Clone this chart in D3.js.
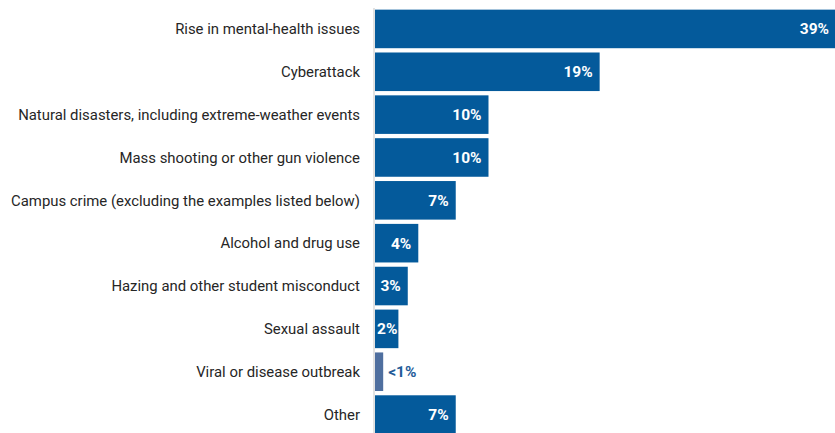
<!DOCTYPE html>
<html><head><meta charset="utf-8">
<script src="https://cdn.jsdelivr.net/npm/d3@7"></script>
<style>body{margin:0;background:#fff;overflow:hidden}svg{display:block}</style>
</head><body><svg id="c" width="835" height="433"></svg>
<script>
const categories = ["Rise in mental-health issues","Cyberattack","Natural disasters, including extreme-weather events","Mass shooting or other gun violence","Campus crime (excluding the examples listed below)","Alcohol and drug use","Hazing and other student misconduct","Sexual assault","Viral or disease outbreak","Other"];
const values = [39.4, 19.2, 9.7, 9.7, 6.9, 3.7, 2.8, 2.0, 0.7, 6.9];
const labels = ["39%","19%","10%","10%","7%","4%","3%","2%","<1%","7%"];

const svg = d3.select("#c");
const x0 = 375;
const x = d3.scaleLinear().domain([0, 39.4]).range([x0, 836]);
const y = d3.scaleBand().domain(categories).range([7.5, 436]).paddingInner(0.1).paddingOuter(0.05);

svg.append("line").attr("x1", x0-1).attr("x2", x0-1).attr("y1", 8).attr("y2", 433)
  .attr("stroke", "#d9d9d9").attr("stroke-width", 1.5);

const g = svg.selectAll("g.bar").data(categories).join("g");
g.append("rect").attr("x", x0).attr("y", d => y(d)).attr("height", y.bandwidth())
  .attr("width", (d,i) => x(values[i]) - x0)
  .attr("fill", (d,i) => values[i] < 1 ? "#4f6f9f" : "#045a9b");
g.append("text").attr("x", x0-15).attr("y", d => y(d) + y.bandwidth()/2)
  .attr("dy", "0.35em").attr("text-anchor", "end")
  .attr("font-family", "Roboto").attr("font-size", 14.9).attr("fill", "#262626")
  .text(d => d);
g.append("text")
  .attr("y", d => y(d) + y.bandwidth()/2).attr("dy", "0.35em")
  .attr("text-anchor", "start")
  .attr("font-family", "Roboto").attr("font-weight", "bold").attr("font-size", 15.5)
  .attr("fill", (d,i) => values[i] < 1 ? "#1f5c99" : "#fff")
  .text((d,i) => labels[i])
  .attr("x", function(d,i){
    const w = this.getComputedTextLength();
    if (values[i] < 1) return x(values[i]) + 5;
    return Math.max(x0 + 2, x(values[i]) - 7 - w);
  });
</script></body></html>
